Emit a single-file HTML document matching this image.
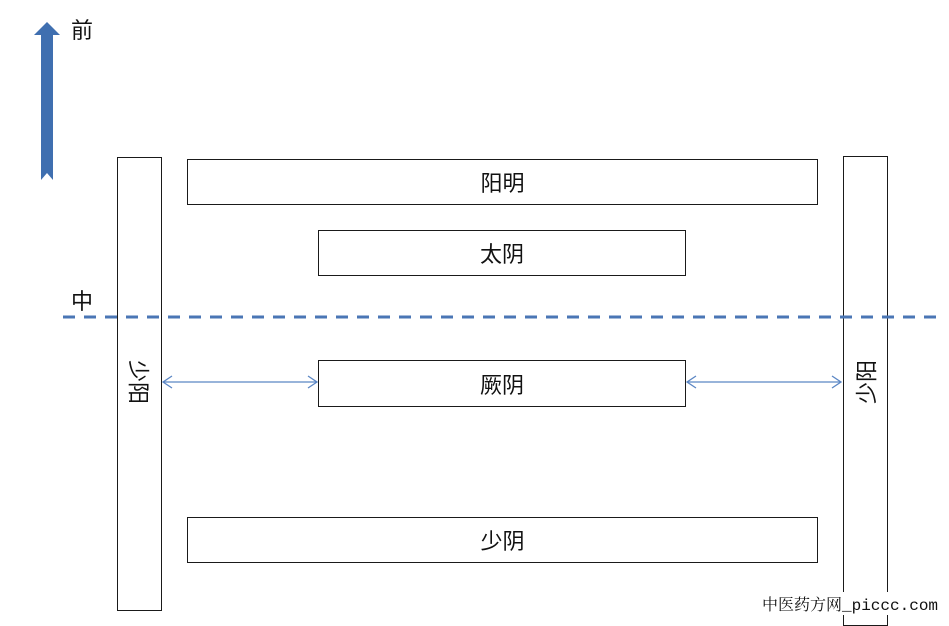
<!DOCTYPE html>
<html><head><meta charset="utf-8"><style>
body{margin:0;width:949px;height:624px;background:#fff;position:relative;overflow:hidden;font-family:"Liberation Sans","Noto Sans CJK SC",sans-serif}
.r{position:absolute;border:1.5px solid #1a1a1a;box-sizing:border-box;background:#fff;display:flex;align-items:center;justify-content:center;font-size:22px;color:#111}
.t{position:absolute;font-size:22px;color:#111}
</style></head><body>
<div class="r" style="left:187px;top:159px;width:631px;height:46px">阳明</div>
<div class="r" style="left:318px;top:230px;width:368px;height:46px">太阴</div>
<div class="r" style="left:318px;top:360px;width:368px;height:47px">厥阴</div>
<div class="r" style="left:187px;top:517px;width:631px;height:46px">少阴</div>
<div class="r" style="left:117px;top:157px;width:45px;height:454px;align-items:flex-start"></div>
<div class="r" style="left:843px;top:156px;width:45px;height:470px"></div>
<div class="t" style="left:117px;top:354px;width:45px;height:56px;writing-mode:vertical-rl;text-orientation:sideways;display:flex;align-items:center;justify-content:center">少阳</div>
<div class="t" style="left:843px;top:354px;width:45px;height:56px;writing-mode:vertical-rl;text-orientation:sideways;transform:rotate(180deg);display:flex;align-items:center;justify-content:center">少阳</div>
<svg width="949" height="624" style="position:absolute;left:0;top:0">
<line x1="63" y1="317" x2="945" y2="317" stroke="#4a76b5" stroke-width="3" stroke-dasharray="12,9"/>
<polygon points="47,22 60,35 53,35 53,180 47,173 41,180 41,35 34,35" fill="#3f6fb0"/>
<g stroke="#5b86c4" stroke-width="1.3" fill="none">
<line x1="163" y1="382" x2="317" y2="382"/><polyline points="172,376 163,382 172,388"/><polyline points="308,376 317,382 308,388"/>
<line x1="687" y1="382" x2="841" y2="382"/><polyline points="696,376 687,382 696,388"/><polyline points="832,376 841,382 832,388"/>
</g>
</svg>
<div class="t" style="left:71px;top:13px">前</div>
<div class="t" style="left:71px;top:284px">中</div>
<div style="position:absolute;left:762px;top:592px;font-family:'Liberation Mono','Noto Serif CJK SC',monospace;font-size:16px;color:#111;background:#fff">中医药方网_piccc.com</div>
</body></html>
